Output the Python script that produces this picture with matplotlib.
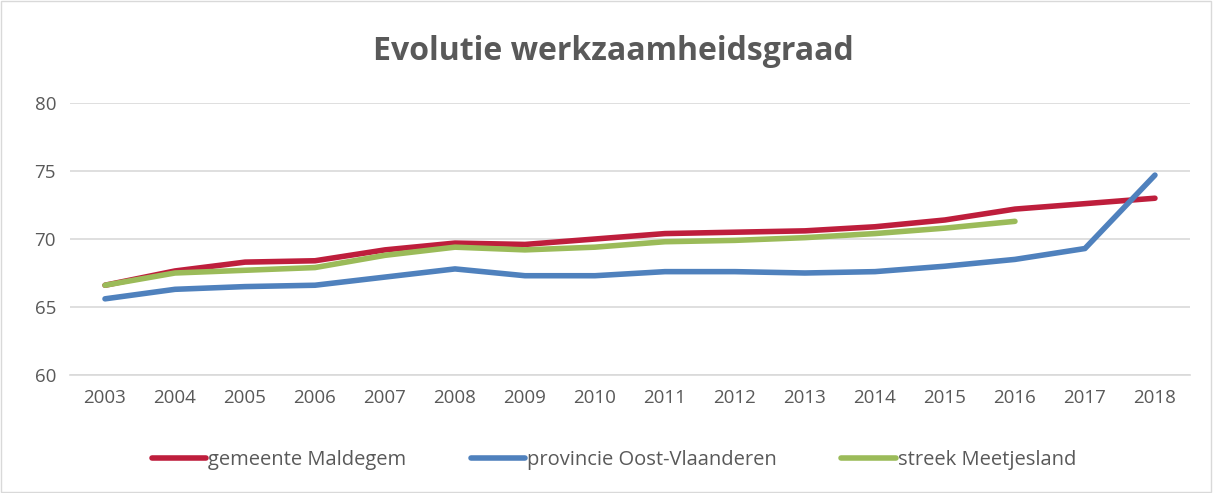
import matplotlib.pyplot as plt
from matplotlib.patches import Rectangle

plt.rcParams['font.family'] = ['Open Sans', 'DejaVu Sans']

years = [str(y) for y in range(2003, 2019)]
maldegem = [66.6, 67.65, 68.3, 68.4, 69.2, 69.7, 69.6, 70.0, 70.4, 70.5, 70.6, 70.9, 71.4, 72.2, 72.6, 73.0]
oost_vlaanderen = [65.6, 66.3, 66.5, 66.6, 67.2, 67.8, 67.3, 67.3, 67.6, 67.6, 67.5, 67.6, 68.0, 68.5, 69.3, 74.7]
meetjesland = [66.6, 67.5, 67.7, 67.9, 68.8, 69.4, 69.2, 69.4, 69.8, 69.9, 70.1, 70.4, 70.8, 71.3]

fig = plt.figure(figsize=(12.13, 4.93), dpi=100)
ax = fig.add_axes([0.0577, 0.2394, 0.9233, 0.5516])

x = list(range(len(years)))
ax.plot(x, maldegem, color='#be1e3c', lw=4, solid_capstyle='round', label='gemeente Maldegem')
ax.plot(x, oost_vlaanderen, color='#4f81bd', lw=4, solid_capstyle='round', label='provincie Oost-Vlaanderen')
ax.plot(x[:len(meetjesland)], meetjesland, color='#9bbb59', lw=4, solid_capstyle='round', label='streek Meetjesland')

ax.set_xlim(-0.5, len(years) - 0.5)
ax.set_ylim(60, 80)
ax.set_yticks([60, 65, 70, 75, 80])
ax.set_xticks(x)
ax.set_xticklabels(years)
ax.grid(axis='y', color='#d9d9d9', lw=1.2)
ax.set_axisbelow(True)
for s in ['top', 'right', 'left']:
    ax.spines[s].set_visible(False)
ax.spines['bottom'].set_color('#d9d9d9')
ax.spines['bottom'].set_linewidth(1.2)
ax.tick_params(length=0, labelsize=13.5, labelcolor='#595959', pad=10)

fig.suptitle('Evolutie werkzaamheidsgraad', x=0.506, y=0.93, fontsize=23, fontweight='bold', color='#595959')

fig.legend(loc='center', bbox_to_anchor=(0.506, 0.066), ncol=3, frameon=False,
           fontsize=14.5, labelcolor='#595959', handlelength=2.7, handletextpad=0.1, columnspacing=3.2)

fig.patches.append(Rectangle((0.001, 0.002), 0.997, 0.996, transform=fig.transFigure,
                             fill=False, edgecolor='#d9d9d9', lw=1))

fig.savefig('out.png', dpi=100)
